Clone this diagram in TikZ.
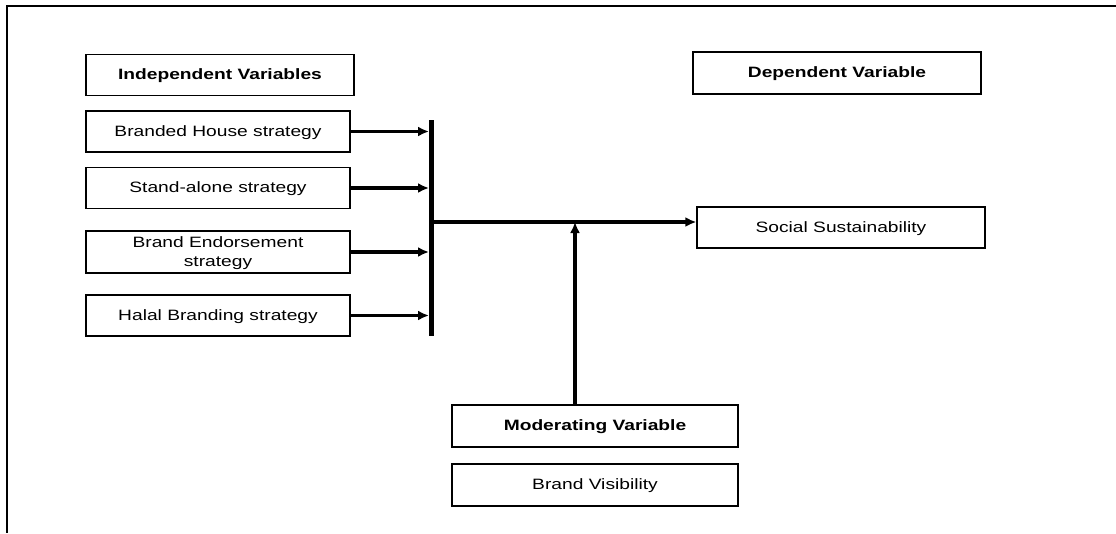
\documentclass[tikz,border=0pt]{standalone}
\usepackage{fontspec}
\setmainfont{Liberation Sans}[FakeStretch=1.28]
\usetikzlibrary{arrows.meta}

\tikzset{every picture/.style={line width=0.75pt}}
\tikzset{
  varbox/.style={draw, line width=1.3pt, inner sep=0pt, align=center,
    minimum height=41pt, text depth=1pt, font=\fontsize{15}{19.5}\selectfont},
  headbox/.style={varbox, font=\fontsize{15}{19.5}\selectfont\bfseries},
  feed/.style={line width=3.2pt, -{Latex[length=11pt,width=10pt]}}
}

\begin{document}
\begin{tikzpicture}[x=1pt,y=1pt,yscale=-1,xscale=1]
\useasboundingbox (0,0) rectangle (1116,533);

% frame
\draw [line width=1.8pt] (1116,6) -- (7,6) -- (7,533);

% Independent side
\node [headbox, minimum width=268pt] (indep) at (220,75) {Independent Variables};
\node [varbox, minimum width=264pt] (house) at (218,131.5) {Branded House strategy};
\node [varbox, minimum width=264pt] (alone) at (218,188) {Stand-alone strategy};
\node [varbox, minimum width=264pt, minimum height=42pt] (endorse) at (218,252) {Brand Endorsement\\strategy};
\node [varbox, minimum width=264pt] (halal) at (218,315.5) {Halal Branding strategy};

% Dependent side
\node [headbox, minimum width=288pt, minimum height=42pt] (dep) at (837,73) {Dependent Variable};
\node [varbox, minimum width=288pt] (social) at (841,227.5) {Social Sustainability};

% Moderator
\node [headbox, minimum width=286pt, minimum height=42pt] (moder) at (595,426) {Moderating Variable};
\node [varbox, minimum width=286pt, minimum height=42pt] (visib) at (595,485) {Brand Visibility};

% bus bar
\coordinate (busTop) at (431,120);
\coordinate (busBot) at (431,336);
\coordinate (busL) at (429,0);
\coordinate (hub) at (431,222);
\coordinate (joint) at (575,222);
\draw [line width=5pt] (busTop) -- (busBot);

% connectors
\draw [feed] (house.east) -- (house.east -| busL);
\draw [feed] (alone.east) -- (alone.east -| busL);
\draw [feed] (endorse.east) -- (endorse.east -| busL);
\draw [feed] (halal.east) -- (halal.east -| busL);
\draw [feed] (hub) -- (hub -| social.west);
\draw [feed] (moder.north -| joint) -- (joint);

\end{tikzpicture}
\end{document}
